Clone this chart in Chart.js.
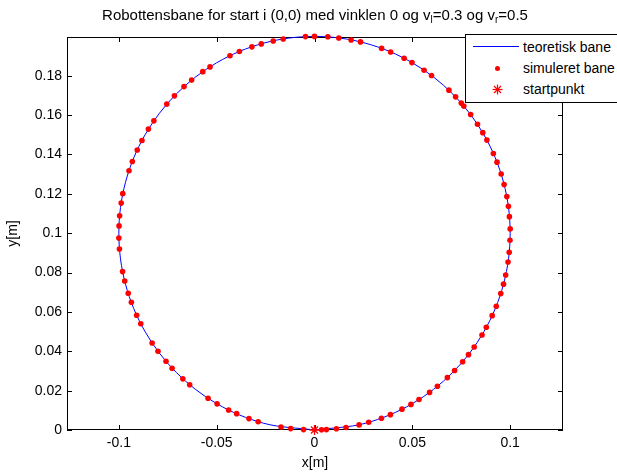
<!DOCTYPE html>
<html>
<head>
<meta charset="utf-8">
<script src="https://cdn.jsdelivr.net/npm/chart.js@4"></script>
<style>
  html, body { margin: 0; padding: 0; background: #fff; }
  #wrap { position: relative; width: 617px; height: 473px; overflow: hidden; background: #fff; }
  #wrap canvas { position: absolute; left: 0; top: 0; }
  #title {
    position: absolute; left: 0; top: 6px; width: 630px; text-align: center;
    font: 15px "Liberation Sans", Arial, sans-serif; color: #000; white-space: nowrap;
  }
  #title sub { font-size: 10px; vertical-align: -3px; line-height: 0; }
  #legend {
    position: absolute; left: 465px; top: 34px; width: 180px; height: 67px;
    border: 1px solid #000; background: #fff;
    font: 14px "Liberation Sans", Arial, sans-serif; color: #000;
  }
  #legend .row { position: absolute; left: 57px; height: 16px; line-height: 16px; white-space: nowrap; }
  #legend .mk { position: absolute; }
</style>
</head>
<body>
<div id="wrap">
  <canvas id="chart" width="617" height="473"></canvas>
  <div id="title">Robottensbane for start i (0,0) med vinklen 0 og v<sub>l</sub>=0.3 og v<sub>r</sub>=0.5</div>
  <div id="legend">
    <div class="mk" style="left:7px;top:11px;width:46px;height:0;border-top:1px solid #0000ff"></div>
    <div class="row" style="top:4px">teoretisk bane</div>
    <div class="mk" style="left:29px;top:31px;width:5px;height:5px;border-radius:50%;background:#ff0000"></div>
    <div class="row" style="top:25px">simuleret bane</div>
    <svg class="mk" style="left:26px;top:49px" width="11" height="11" viewBox="0 0 11 11">
      <g stroke="#ff0000" stroke-width="1.2">
        <line x1="5.5" y1="0.5" x2="5.5" y2="10.5"/><line x1="0.5" y1="5.5" x2="10.5" y2="5.5"/>
        <line x1="2" y1="2" x2="9" y2="9"/><line x1="9" y1="2" x2="2" y2="9"/>
      </g>
    </svg>
    <div class="row" style="top:46px">startpunkt</div>
  </div>
</div>
<script>
// akser
const xTicks = [-0.1, -0.05, 0, 0.05, 0.1];
const yTicks = [0, 0.02, 0.04, 0.06, 0.08, 0.1, 0.12, 0.14, 0.16, 0.18];

// teoretisk bane (cirkel med centrum i (0, 0.1) og radius 0.1)
const theoX = [0, 0.0259, 0.05, 0.0707, 0.0866, 0.0966, 0.1, 0.0966, 0.0866, 0.0707, 0.05, 0.0259,
  0, -0.0259, -0.05, -0.0707, -0.0866, -0.0966, -0.1, -0.0966, -0.0866, -0.0707, -0.05, -0.0259, 0];
const theoY = [0, 0.0034, 0.0134, 0.0293, 0.05, 0.0741, 0.1, 0.1259, 0.15, 0.1707, 0.1866, 0.1966,
  0.2, 0.1966, 0.1866, 0.1707, 0.15, 0.1259, 0.1, 0.0741, 0.05, 0.0293, 0.0134, 0.0034, 0];

// simuleret bane
const simX = [0.0036, 0.0061, 0.0112, 0.0161, 0.0228, 0.0277, 0.0342, 0.0388, 0.0447, 0.0493, 0.0534, 0.0588, 0.0628, 0.0679, 0.0716,
  0.0757, 0.0787, 0.0816, 0.0856, 0.0878, 0.0908, 0.0929, 0.0952, 0.0966, 0.0977, 0.0989, 0.0995, 0.0999, 0.1000, 0.0996,
  0.0991, 0.0983, 0.0969, 0.0954, 0.0933, 0.0914, 0.0881, 0.0860, 0.0833, 0.0798, 0.0763,
  0.0750, 0.0721, 0.0687, 0.0598, 0.0560, 0.0498, 0.0458, 0.0389, 0.0343, 0.0235, 0.0187, 0.0124, 0.0068, 0.0000,
  -0.0046, -0.0160, -0.0211, -0.0272, -0.0320, -0.0384, -0.0432, -0.0534, -0.0571, -0.0628, -0.0667,
  -0.0716, -0.0755, -0.0821, -0.0849, -0.0882, -0.0906, -0.0931, -0.0948, -0.0980, -0.0988, -0.0996, -0.0999, -0.1000, -0.0997,
  -0.0981, -0.0970, -0.0952, -0.0936, -0.0909, -0.0888, -0.0830, -0.0800, -0.0759, -0.0728,
  -0.0673, -0.0638, -0.0544, -0.0498, -0.0439, -0.0398, -0.0335, -0.0288, -0.0171, -0.0122, -0.0056];
const simY = [0.0001, 0.0002, 0.0006, 0.0013, 0.0026, 0.0039, 0.0060, 0.0078, 0.0106, 0.0130, 0.0155, 0.0191, 0.0222, 0.0266, 0.0302,
  0.0347, 0.0383, 0.0422, 0.0483, 0.0522, 0.0581, 0.0629, 0.0693, 0.0741, 0.0788, 0.0854, 0.0903, 0.0964, 0.1022, 0.1084,
  0.1137, 0.1186, 0.1247, 0.1301, 0.1361, 0.1405, 0.1473, 0.1511, 0.1554, 0.1603, 0.1646,
  0.1661, 0.1693, 0.1727, 0.1801, 0.1828, 0.1867, 0.1889, 0.1921, 0.1939, 0.1972, 0.1982, 0.1992, 0.1998, 0.2000,
  0.1999, 0.1987, 0.1977, 0.1962, 0.1947, 0.1923, 0.1902, 0.1845, 0.1821, 0.1778, 0.1745,
  0.1698, 0.1656, 0.1571, 0.1529, 0.1471, 0.1423, 0.1364, 0.1317, 0.1201, 0.1153, 0.1089, 0.1037, 0.0975, 0.0920,
  0.0805, 0.0757, 0.0695, 0.0649, 0.0583, 0.0540, 0.0442, 0.0400, 0.0349, 0.0314,
  0.0260, 0.0230, 0.0161, 0.0133, 0.0102, 0.0083, 0.0058, 0.0042, 0.0015, 0.0007, 0.0002];

// startpunkt
const startX = [0];
const startY = [0];

const FONT = { family: '"Liberation Sans", Arial, sans-serif', size: 14 };
const toPts = (xs, ys) => xs.map((x, i) => ({ x, y: ys[i] }));

// ramme + indadvendte ticks som i matlab
const axesBox = {
  id: 'axesBox',
  beforeDatasetsDraw(chart) {
    const { ctx, chartArea: a, scales: { x, y } } = chart;
    ctx.save();
    ctx.strokeStyle = '#000';
    ctx.lineWidth = 1;
    ctx.strokeRect(a.left + 0.5, a.top + 0.5, a.right - a.left - 1, a.bottom - a.top - 1);
    ctx.beginPath();
    x.ticks.forEach(t => {
      const px = Math.round(x.getPixelForValue(t.value)) + 0.5;
      ctx.moveTo(px, a.bottom); ctx.lineTo(px, a.bottom - 5);
      ctx.moveTo(px, a.top);    ctx.lineTo(px, a.top + 5);
    });
    y.ticks.forEach(t => {
      const py = Math.round(y.getPixelForValue(t.value)) + 0.5;
      ctx.moveTo(a.left, py);  ctx.lineTo(a.left + 5, py);
      ctx.moveTo(a.right, py); ctx.lineTo(a.right - 5, py);
    });
    ctx.stroke();
    ctx.restore();
  }
};

new Chart(document.getElementById('chart'), {
  type: 'scatter',
  data: {
    datasets: [
      {
        label: 'teoretisk bane',
        data: toPts(theoX, theoY),
        showLine: true,
        borderColor: '#0000ff',
        borderWidth: 1,
        tension: 0.34,
        pointRadius: 0,
        clip: false,
        order: 3
      },
      {
        label: 'simuleret bane',
        data: toPts(simX, simY),
        pointStyle: 'circle',
        pointRadius: 2.8,
        backgroundColor: '#ff0000',
        borderColor: '#ff0000',
        borderWidth: 0,
        clip: false,
        order: 2
      },
      {
        label: 'startpunkt',
        data: toPts(startX, startY),
        pointStyle: 'star',
        pointRadius: 5,
        borderColor: '#ff0000',
        backgroundColor: '#ff0000',
        borderWidth: 1.3,
        clip: false,
        order: 1
      }
    ]
  },
  options: {
    responsive: false,
    animation: false,
    events: [],
    layout: { padding: { top: 37, right: 54, left: 0, bottom: 0 } },
    plugins: { legend: { display: false }, tooltip: { enabled: false } },
    scales: {
      x: {
        type: 'linear',
        min: -0.1265,
        max: 0.127,
        afterBuildTicks: s => { s.ticks = xTicks.map(v => ({ value: v })); },
        afterFit: s => { s.height = 43; },
        grid: { display: false, drawTicks: false },
        border: { display: false },
        ticks: { color: '#000', font: FONT, padding: 5, maxRotation: 0,
                  callback: v => String(+v.toFixed(3)) },
        title: { display: true, text: 'x[m]', color: '#000', font: FONT, padding: { top: 0, bottom: 1.5 } }
      },
      y: {
        type: 'linear',
        min: 0,
        max: 0.1997,
        afterBuildTicks: s => { s.ticks = yTicks.map(v => ({ value: v })); },
        afterFit: s => { s.width = 67; },
        grid: { display: false, drawTicks: false },
        border: { display: false },
        ticks: { color: '#000', font: FONT, padding: 5,
                 callback: v => String(+v.toFixed(3)) },
        title: { display: true, text: 'y[m]', color: '#000', font: FONT, padding: { top: 4.5, bottom: 0 } }
      }
    }
  },
  plugins: [axesBox]
});
</script>
</body>
</html>
